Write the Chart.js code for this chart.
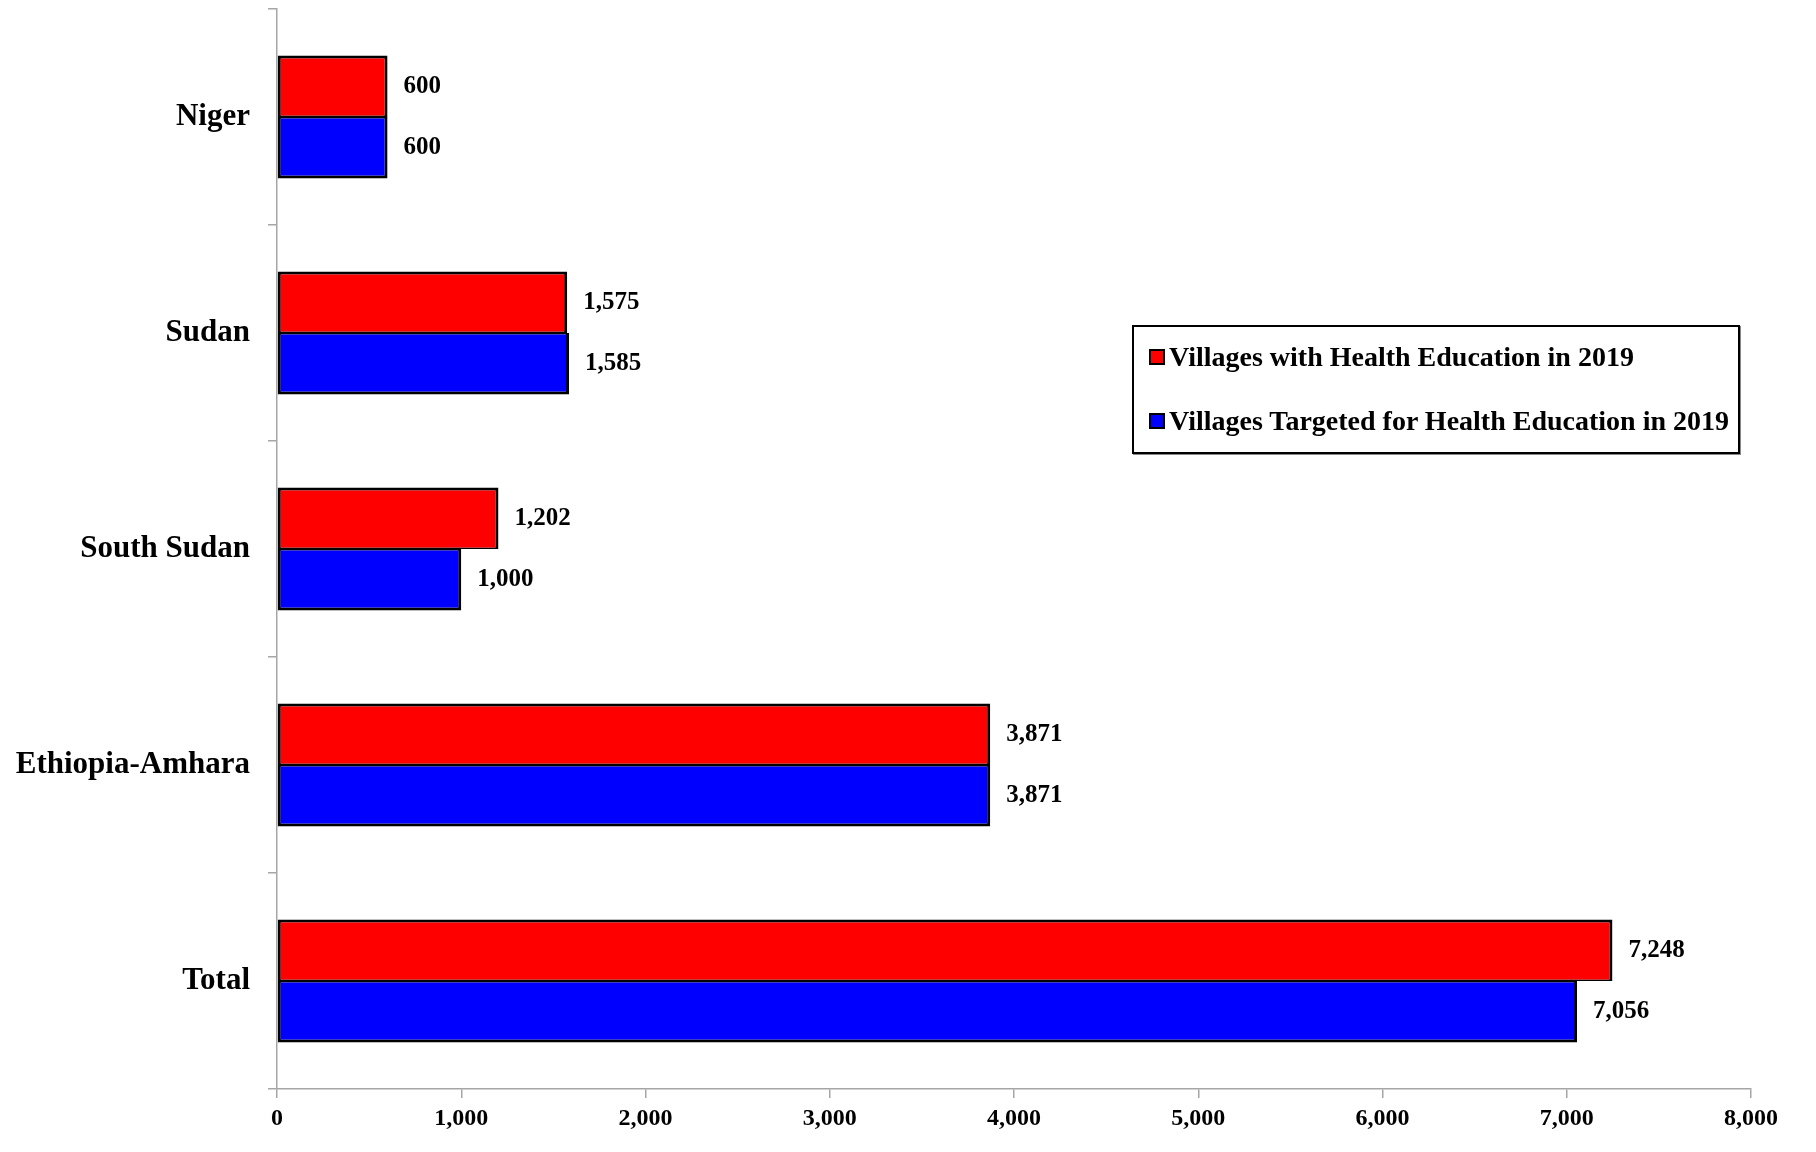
<!DOCTYPE html>
<html>
<head>
<meta charset="utf-8">
<script src="https://cdn.jsdelivr.net/npm/chart.js@4.4.1/dist/chart.umd.min.js"></script>
<style>
  html, body { margin: 0; padding: 0; background: #fff; }
  #wrap { position: relative; width: 1816px; height: 1152px; }
  #legend {
    position: absolute; left: 1132px; top: 325px; width: 604px; height: 125px;
    border: 2px solid #000; box-shadow: 1px 1px 0 #888; background: #fff;
    font-family: "Liberation Serif", "DejaVu Serif", serif; font-weight: bold; font-size: 28px; color: #000;
  }
  .item { position: absolute; left: 15px; display: flex; align-items: center; white-space: nowrap; }
  .sw { width: 12px; height: 12px; border: 2px solid #000; margin-right: 4px; }
</style>
</head>
<body>
<div id="wrap">
  <canvas id="c" width="1816" height="1152"></canvas>
  <div id="legend"></div>
</div>
<script>
const categories = ["Niger", "Sudan", "South Sudan", "Ethiopia-Amhara", "Total"];
const seriesNames = ["Villages with Health Education in 2019", "Villages Targeted for Health Education in 2019"];
const villagesWithEducation = [600, 1575, 1202, 3871, 7248];
const villagesTargeted = [600, 1585, 1000, 3871, 7056];
const seriesColors = ["#ff0000", "#0000ff"];
const xTickMax = 8000;
const xTickStep = 1000;

const fontFamily = '"Liberation Serif", "DejaVu Serif", serif';
const fmt = v => Number(v).toLocaleString('en-US');

const valueLabels = {
  id: 'valueLabels',
  afterDatasetsDraw(chart) {
    const ctx = chart.ctx;
    ctx.save();
    ctx.font = 'bold 25px ' + fontFamily;
    ctx.fillStyle = '#000';
    ctx.textAlign = 'left';
    ctx.textBaseline = 'middle';
    chart.data.datasets.forEach((ds, di) => {
      const meta = chart.getDatasetMeta(di);
      meta.data.forEach((el, i) => {
        ctx.fillText(fmt(ds.data[i]), el.x + 16, el.y);
      });
    });
    ctx.restore();
  }
};

const chart = new Chart(document.getElementById('c'), {
  type: 'bar',
  data: {
    labels: categories,
    datasets: [
      { label: seriesNames[0], data: villagesWithEducation, backgroundColor: seriesColors[0],
        borderWidth: { top: 3, right: 3, bottom: 1.5, left: 3 } },
      { label: seriesNames[1], data: villagesTargeted, backgroundColor: seriesColors[1],
        borderWidth: { top: 1.5, right: 3, bottom: 3, left: 3 } }
    ]
  },
  options: {
    indexAxis: 'y',
    responsive: false,
    animation: false,
    devicePixelRatio: 1,
    layout: { padding: { left: 0, right: 65, top: 9, bottom: 0 } },
    datasets: {
      bar: {
        categoryPercentage: 0.57,
        barPercentage: 1.0,
        borderColor: '#000',
        borderSkipped: false
      }
    },
    plugins: {
      legend: { display: false },
      tooltip: { enabled: false }
    },
    scales: {
      x: {
        min: 0,
        max: xTickMax,
        ticks: {
          stepSize: xTickStep,
          color: '#000',
          font: { family: fontFamily, size: 24, weight: 'bold' },
          padding: 6,
          callback: v => fmt(v)
        },
        grid: { display: true, drawOnChartArea: false, drawTicks: true, tickLength: 9, color: '#a6a6a6', lineWidth: 1.5 },
        border: { display: true, color: '#a6a6a6', width: 1.5 },
        afterFit(scale) { scale.height = 63; }
      },
      y: {
        ticks: {
          color: '#000',
          font: { family: fontFamily, size: 31, weight: 'bold' },
          padding: 18
        },
        grid: { display: true, offset: true, drawOnChartArea: false, drawTicks: true, tickLength: 9, color: '#a6a6a6', lineWidth: 1.5 },
        border: { display: true, color: '#a6a6a6', width: 1.5 },
        afterFit(scale) { scale.width = 277; scale.paddingTop = 0; scale.paddingBottom = 0; }
      }
    }
  },
  plugins: [valueLabels]
});

const legendEl = document.getElementById('legend');
const rowTops = [14, 78];
chart.data.datasets.forEach((ds, i) => {
  const item = document.createElement('div');
  item.className = 'item';
  item.style.top = rowTops[i] + 'px';
  const sw = document.createElement('span');
  sw.className = 'sw';
  sw.style.background = ds.backgroundColor;
  const t = document.createElement('span');
  t.textContent = ds.label;
  item.appendChild(sw);
  item.appendChild(t);
  legendEl.appendChild(item);
});
</script>
</body>
</html>
